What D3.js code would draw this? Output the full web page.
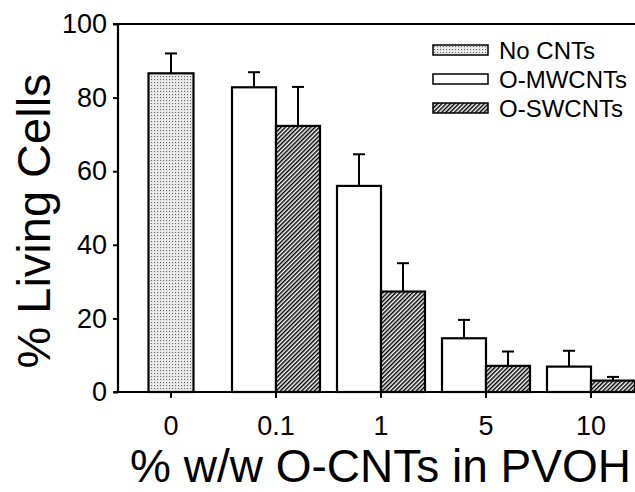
<!DOCTYPE html>
<html>
<head>
<meta charset="utf-8">
<script src="https://cdn.jsdelivr.net/npm/d3@7"></script>
<style>
  body { margin: 0; background: #fff; }
  svg text { font-family: "Liberation Sans", Arial, sans-serif; fill: #000; }
</style>
</head>
<body>
<div id="chart"></div>
<script>
// data
const categories = ["0", "0.1", "1", "5", "10"];
const noCnt = [86.6, null, null, null, null];
const noCntErr = [5.4, null, null, null, null];
const mwcnt = [null, 82.8, 56.0, 14.6, 6.9];
const mwcntErr = [null, 4.1, 8.6, 5.0, 4.3];
const swcnt = [null, 72.3, 27.3, 7.1, 3.1];
const swcntErr = [null, 10.6, 7.7, 3.9, 1.0];
const yTicks = [0, 20, 40, 60, 80, 100];
const legendNames = ["No CNTs", "O-MWCNTs", "O-SWCNTs"];

const w = 635, h = 492;
const svg = d3.select("#chart").append("svg").attr("width", w).attr("height", h);

// patterns
const defs = svg.append("defs");
const dots = defs.append("pattern").attr("id", "dots")
    .attr("patternUnits", "userSpaceOnUse").attr("width", 3).attr("height", 3);
dots.append("rect").attr("width", 3).attr("height", 3).attr("fill", "#e4e4e4");
dots.append("rect").attr("x", 1).attr("y", 1).attr("width", 1).attr("height", 1).attr("fill", "#666");
dots.append("rect").attr("x", 0).attr("y", 0).attr("width", 1).attr("height", 1).attr("fill", "#fff");

const hatch = defs.append("pattern").attr("id", "hatch")
    .attr("patternUnits", "userSpaceOnUse").attr("width", 3).attr("height", 3)
    .attr("patternTransform", "rotate(45)");
hatch.append("rect").attr("width", 3).attr("height", 3).attr("fill", "#fff");
hatch.append("line").attr("x1", 0.75).attr("y1", 0).attr("x2", 0.75).attr("y2", 3)
    .attr("stroke", "#000").attr("stroke-width", 1.5);

const fills = ["url(#dots)", "#fff", "url(#hatch)"];

// scales
const x = d3.scaleBand().domain(categories).range([118.5, 643.5]).padding(0);
const y = d3.scaleLinear().domain([0, 100]).range([392, 24]);
const barW = 44;

// build bar records
const bars = [];
categories.forEach((c, i) => {
    const cx = x(c) + x.bandwidth() / 2;
    if (noCnt[i] != null) bars.push({ x0: cx - 22.5, w: 45, v: noCnt[i], e: noCntErr[i], s: 0 });
    if (mwcnt[i] != null) bars.push({ x0: cx - barW, w: barW, v: mwcnt[i], e: mwcntErr[i], s: 1 });
    if (swcnt[i] != null) bars.push({ x0: cx, w: barW, v: swcnt[i], e: swcntErr[i], s: 2 });
});

// error bars (drawn first so the bar outline sits over the stem)
const eb = svg.append("g").attr("stroke", "#000").attr("stroke-width", 2);
eb.selectAll("line.stem").data(bars).enter().append("line")
    .attr("x1", d => d.x0 + d.w / 2).attr("x2", d => d.x0 + d.w / 2)
    .attr("y1", d => y(d.v)).attr("y2", d => y(d.v + d.e));
eb.selectAll("line.cap").data(bars).enter().append("line")
    .attr("x1", d => d.x0 + d.w / 2 - 6).attr("x2", d => d.x0 + d.w / 2 + 6)
    .attr("y1", d => y(d.v + d.e)).attr("y2", d => y(d.v + d.e));

svg.append("g").selectAll("rect").data(bars).enter().append("rect")
    .attr("x", d => d.x0).attr("y", d => y(d.v))
    .attr("width", d => d.w).attr("height", d => y(0) - y(d.v))
    .attr("fill", d => fills[d.s]).attr("stroke", "#000").attr("stroke-width", 2.2);

// axes
const yAxis = svg.append("g").attr("transform", "translate(118,0)")
    .call(d3.axisLeft(y).tickValues(yTicks).tickSize(5).tickPadding(6));
const xAxis = svg.append("g").attr("transform", "translate(0,392)")
    .call(d3.axisBottom(x).tickSize(6).tickPadding(18));
[yAxis, xAxis].forEach(a => {
    a.select(".domain").remove();
    a.selectAll("line").attr("stroke", "#000").attr("stroke-width", 2);
    a.selectAll("text").style("font-size", "27px").attr("fill", "#000");
});
svg.append("line").attr("x1", 118).attr("x2", 118).attr("y1", 24).attr("y2", 392)
    .attr("stroke", "#000").attr("stroke-width", 2.2);
svg.append("line").attr("x1", 113).attr("x2", w).attr("y1", 392).attr("y2", 392)
    .attr("stroke", "#000").attr("stroke-width", 2.2);
svg.append("line").attr("x1", 113).attr("x2", w).attr("y1", 24).attr("y2", 24)
    .attr("stroke", "#000").attr("stroke-width", 2.2);

// axis titles
svg.append("text").attr("transform", "translate(50,221) rotate(-90)")
    .attr("text-anchor", "middle").style("font-size", "47px").text("% Living Cells");
svg.append("text").attr("x", 130).attr("y", 482)
    .style("font-size", "46px").text("% w/w O-CNTs in PVOH");

// legend
const lg = svg.append("g").selectAll("g").data(legendNames).enter().append("g")
    .attr("transform", (d, i) => "translate(433," + (45 + i * 29) + ")");
lg.append("rect").attr("width", 55).attr("height", 10)
    .attr("fill", (d, i) => fills[i]).attr("stroke", "#000").attr("stroke-width", 1.5);
lg.append("text").attr("x", 66).attr("y", 14).style("font-size", "24px").text(d => d);
</script>
</body>
</html>
